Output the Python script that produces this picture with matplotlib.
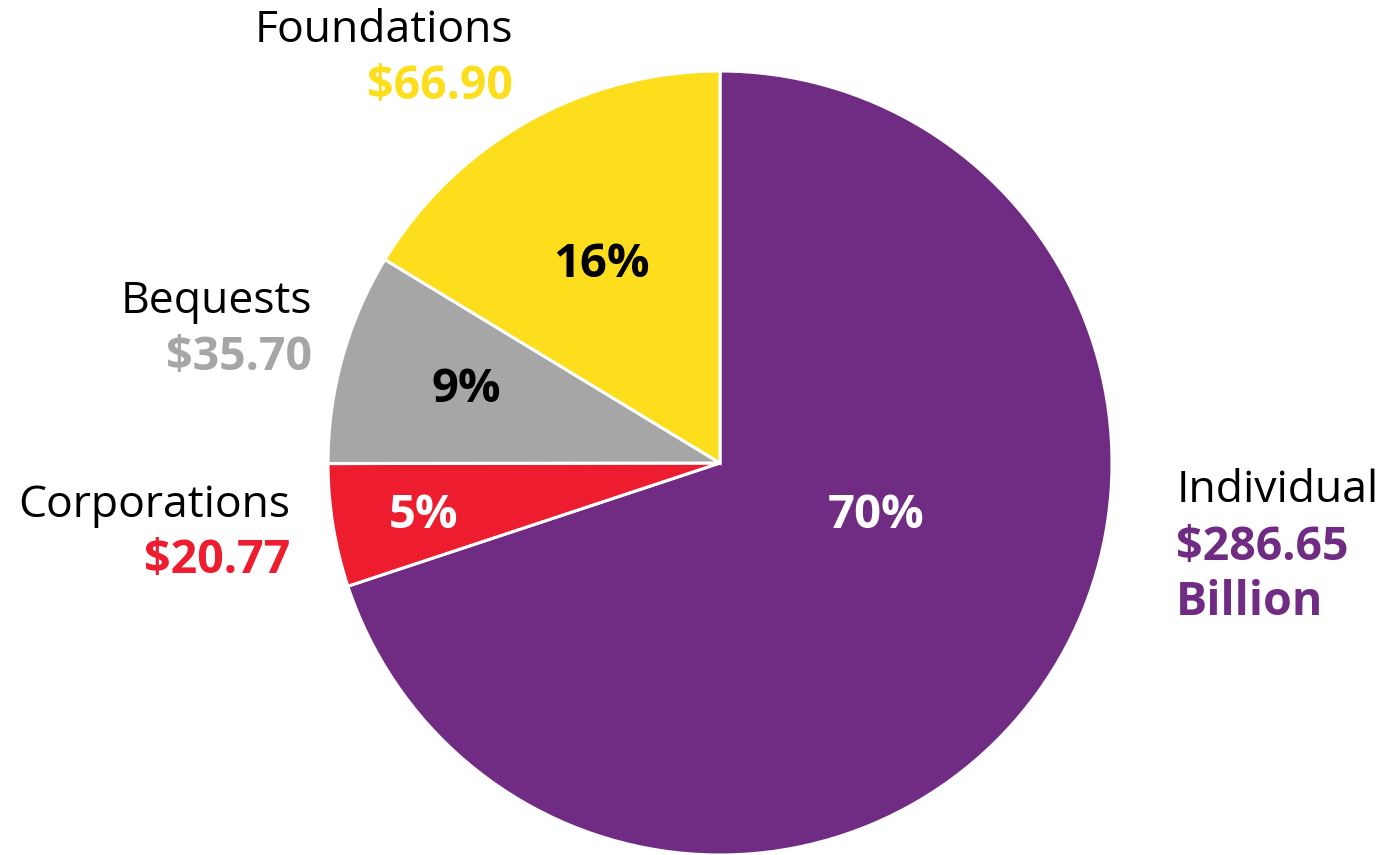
import matplotlib.pyplot as plt

# giving by source, billions of dollars
labels = ['Individual', 'Corporations', 'Bequests', 'Foundations']
amounts = [286.65, 20.77, 35.70, 66.90]
amount_text = ['$286.65', '$20.77', '$35.70', '$66.90']
colors = ['#702B83', '#ED1C2E', '#A6A6A6', '#FDDE1D']
pct_colors = ['white', 'white', 'black', 'black']

W, H = 1389, 855
plt.rcParams['font.family'] = ['Open Sans', 'DejaVu Sans']

fig = plt.figure(figsize=(W / 100, H / 100), dpi=100)


def px(x, y):
    # pixel coords (from top left) -> figure fraction
    return x / W, 1 - y / H


cx, cy, r = 720, 463, 392
ax = fig.add_axes([(cx - r) / W, (H - cy - r) / H, 2 * r / W, 2 * r / H])
ax.pie(amounts, colors=colors, startangle=90, counterclock=False,
       radius=1, wedgeprops=dict(edgecolor='white', linewidth=2.2))
ax.set_xlim(-1, 1)
ax.set_ylim(-1, 1)
ax.axis('off')

total = sum(amounts)
pcts = ['{0:.0f}%'.format(a / total * 100) for a in amounts]

# percent labels inside slices
pct_pos = [(876, 515), (424, 515), (466, 389), (602, 264)]
for p, c, (x, y) in zip(pcts, pct_colors, pct_pos):
    fig.text(*px(x, y), p, color=c, fontsize=34, fontweight='bold',
             ha='center', va='center')

fs = 32
fb = 33.5
# outer labels
fig.text(*px(1177, 502), labels[0], fontsize=fs, ha='left', va='baseline')
fig.text(*px(1176, 560), amount_text[0], color=colors[0], fontsize=fb,
         fontweight='bold', ha='left', va='baseline')
fig.text(*px(1176, 615), 'Billion', color=colors[0], fontsize=fb,
         fontweight='bold', ha='left', va='baseline')

fig.text(*px(290, 517), labels[1], fontsize=fs, ha='right', va='baseline')
fig.text(*px(290, 573), amount_text[1], color=colors[1], fontsize=fb,
         fontweight='bold', ha='right', va='baseline')

fig.text(*px(312, 313), labels[2], fontsize=fs, ha='right', va='baseline')
fig.text(*px(312, 370), amount_text[2], color=colors[2], fontsize=fb,
         fontweight='bold', ha='right', va='baseline')

fig.text(*px(513, 42), labels[3], fontsize=fs, ha='right', va='baseline')
fig.text(*px(513, 99), amount_text[3], color=colors[3], fontsize=fb,
         fontweight='bold', ha='right', va='baseline')

fig.savefig('out.png', dpi=100)
